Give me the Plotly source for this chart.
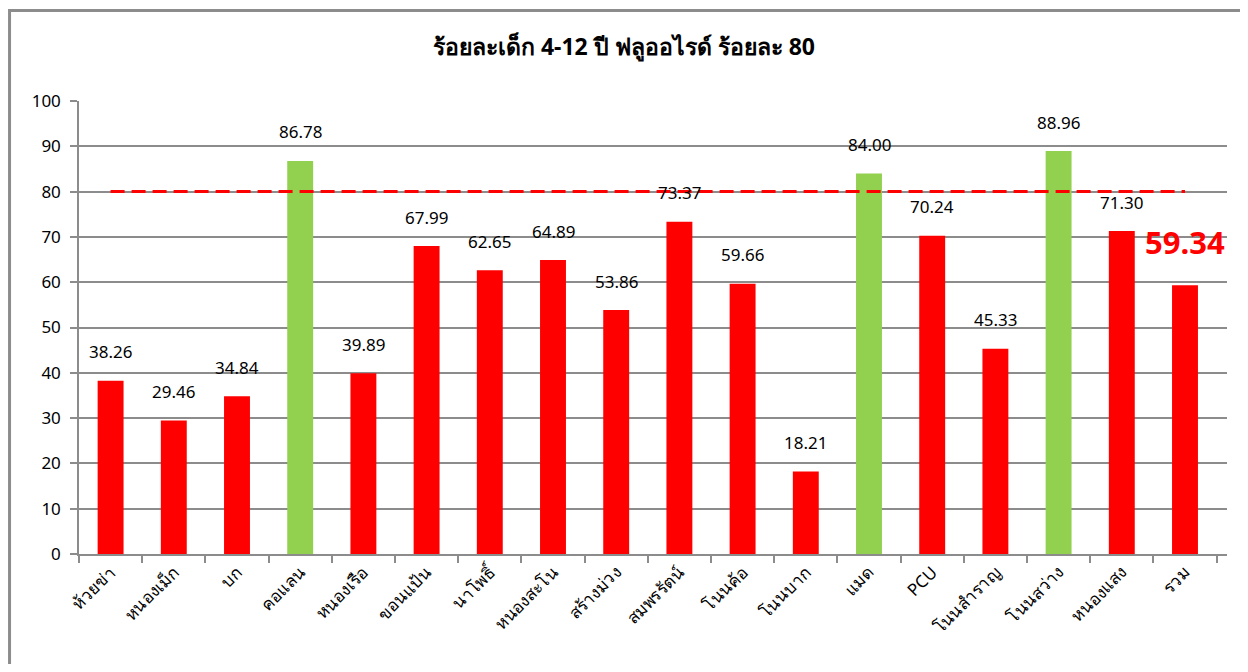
import plotly.graph_objects as go

# data
districts = ["ห้วยข่า", "หนองเม็ก", "บก", "คอแลน", "หนองเรือ", "ขอนแป้น", "นาโพธิ์",
             "หนองสะโน", "สร้างม่วง", "สมพรรัตน์", "โนนค้อ", "โนนบาก", "แมด", "PCU",
             "โนนสำราญ", "โนนสว่าง", "หนองแสง", "รวม"]
percent = [38.26, 29.46, 34.84, 86.78, 39.89, 67.99, 62.65, 64.89, 53.86, 73.37,
           59.66, 18.21, 84.00, 70.24, 45.33, 88.96, 71.30, 59.34]
target = 80

bar_colors = ["#92D050" if v >= target else "#FF0000" for v in percent]
grid = "#8c8c8c"
font_family = "Tahoma, 'Noto Sans', 'DejaVu Sans', sans-serif"

fig = go.Figure()

fig.add_trace(go.Bar(
    x=districts, y=percent,
    marker=dict(color=bar_colors, line=dict(width=0)),
    width=0.41,
    showlegend=False,
))

# target line
fig.add_trace(go.Scatter(
    x=[districts[0], districts[-1]], y=[target, target],
    mode="lines",
    line=dict(color="#FF0000", width=3, dash="14px,7px"),
    showlegend=False,
))

# value labels
for name, v in zip(districts[:-1], percent[:-1]):
    fig.add_annotation(x=name, y=v, text=f"{v:.2f}", showarrow=False,
                       yshift=29, font=dict(size=17, color="#000000"))
fig.add_annotation(x=districts[-1], y=percent[-1], text=f"{percent[-1]:.2f}",
                   showarrow=False, yshift=43,
                   font=dict(size=31, color="#FF0000", family=font_family, weight="bold"))

# outer frame of the chart
fig.add_shape(type="rect", xref="paper", yref="paper",
              x0=-0.0605, x1=1.05, y0=-0.3, y1=1.2,
              line=dict(color="#8c8c8c", width=3), fillcolor="rgba(0,0,0,0)")

# page body has an 8px margin on every side, so keep the figure inside the window
fig.update_layout(
    width=1232, height=656,
    margin=dict(l=71, r=13, t=93, b=110),
    paper_bgcolor="white", plot_bgcolor="white",
    font=dict(family=font_family, color="#000000", size=17),
    title=dict(text="<b>ร้อยละเด็ก 4-12 ปี ฟลูออไรด์ ร้อยละ 80</b>",
               x=0.5, xref="container", xanchor="center",
               y=0.9405, yref="container", yanchor="middle",
               font=dict(size=23, color="#000000")),
    bargap=0.59,
)

fig.update_xaxes(
    tickangle=-45, ticks="outside", tickson="boundaries", ticklen=7,
    tickcolor=grid, tickwidth=1.5, showline=True, linecolor=grid, linewidth=1.5,
    tickfont=dict(size=17), showgrid=False,
)
fig.update_yaxes(
    range=[0, 100], dtick=10, showgrid=True, gridcolor=grid, gridwidth=1.5,
    ticks="outside", ticklen=7, tickcolor=grid, tickwidth=1.5,
    showline=True, linecolor=grid, linewidth=1.5, zeroline=False,
    tickfont=dict(size=17), ticklabelstandoff=6,
)

fig.write_html("out.html")
